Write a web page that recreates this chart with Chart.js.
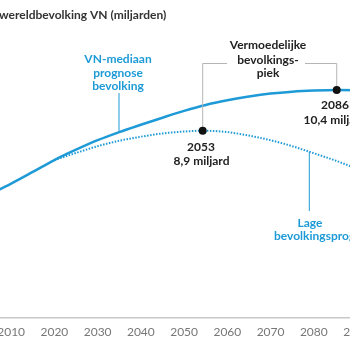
<!DOCTYPE html>
<html><head><meta charset="utf-8">
<script src="https://cdn.jsdelivr.net/npm/chart.js@4/dist/chart.umd.min.js"></script>
<style>
html,body{margin:0;padding:0;width:350px;height:350px;overflow:hidden;background:#fff;}
#wrap{position:absolute;left:-45px;top:0;width:428px;height:350px;}
</style></head>
<body>
<div id="wrap"><canvas id="c" width="428" height="350"></canvas></div>
<script>
// Data (years, population in billions)
const medianYears = [2000, 2005, 2010, 2015, 2020, 2025, 2030, 2035, 2040, 2045, 2050, 2055, 2060, 2065, 2070, 2075, 2080, 2085.3, 2090, 2095];
const medianValues = [6.15, 6.55, 6.95, 7.38, 7.82, 8.2, 8.55, 8.85, 9.12, 9.38, 9.63, 9.85, 10.02, 10.16, 10.27, 10.34, 10.38, 10.4, 10.39, 10.36];
const lowYears = [2020, 2025, 2030, 2035, 2040, 2045, 2050, 2054.3, 2060, 2065, 2070, 2075, 2080, 2085, 2090, 2095];
const lowValues = [7.82, 8.08, 8.33, 8.53, 8.68, 8.8, 8.87, 8.9, 8.85, 8.72, 8.55, 8.33, 8.07, 7.8, 7.5, 7.2];
const peakYears = [2054.3, 2085.3];
const peakValues = [8.9, 10.4];
const tickYears = [2000, 2010, 2020, 2030, 2040, 2050, 2060, 2070, 2080, 2090];

const BLUE = '#1e9ad6';
const FONT = 'Lato, "Noto Sans", sans-serif';

const pts = (xs, ys) => xs.map((x, i) => ({x: x, y: ys[i]}));

const annot = {
  id: 'annot',
  afterDatasetsDraw(chart) {
    const ctx = chart.ctx;
    const xs = chart.scales.x, ys = chart.scales.y;
    const OX = 45; // page-to-canvas offset
    const X = v => xs.getPixelForValue(v), Y = v => ys.getPixelForValue(v);
    ctx.save();
    // title
    ctx.fillStyle = '#333';
    ctx.font = 'bold 12px ' + FONT;
    ctx.textBaseline = 'middle';
    ctx.textAlign = 'left';
    ctx.fillText('wereldbevolking VN (miljarden)', OX - 1, 15);

    // bracket
    ctx.strokeStyle = '#b5b5b5';
    ctx.lineWidth = 1;
    const x1 = X(peakYears[0]), y1 = Y(peakValues[0]);
    const x2 = X(peakYears[1]), y2 = Y(peakValues[1]);
    ctx.beginPath();
    ctx.moveTo(x1, y1); ctx.lineTo(x1, 63.5); ctx.lineTo(OX + 227, 63.5);
    ctx.moveTo(OX + 305, 63.5); ctx.lineTo(x2, 63.5); ctx.lineTo(x2, y2);
    ctx.stroke();

    // blue leaders
    ctx.strokeStyle = BLUE;
    ctx.beginPath();
    ctx.moveTo(OX + 119, 93); ctx.lineTo(OX + 119, Y(8.87));
    ctx.moveTo(OX + 309.3, Y(8.12)); ctx.lineTo(OX + 309.3, 211);
    ctx.stroke();

    // dots
    ctx.fillStyle = '#111';
    [[x1, y1], [x2, y2]].forEach(p => { ctx.beginPath(); ctx.arc(p[0], p[1], 4, 0, Math.PI * 2); ctx.fill(); });

    // blue labels
    ctx.fillStyle = BLUE;
    ctx.font = 'bold 12px ' + FONT;
    ctx.textAlign = 'center';
    ctx.fillText('VN-mediaan', OX + 118, 59);
    ctx.fillText('prognose', OX + 118, 73);
    ctx.fillText('bevolking', OX + 118, 86);
    ctx.fillText('Lage', OX + 310, 223);
    ctx.textAlign = 'left';
    ctx.fillText('bevolkingsprognose', OX + 274, 236);

    // black labels
    ctx.fillStyle = '#222';
    ctx.textAlign = 'center';
    ctx.fillText('Vermoedelijke', OX + 268, 45);
    ctx.fillText('bevolkings-', OX + 268, 60);
    ctx.fillText('piek', OX + 268, 73);
    ctx.fillText('2053', OX + 201, 147);
    ctx.fillText('8,9 miljard', OX + 201.5, 161);
    ctx.fillText('2086', OX + 335, 105);
    ctx.fillText('10,4 miljard', OX + 335, 120);
    ctx.restore();
  }
};

new Chart(document.getElementById('c'), {
  type: 'line',
  data: {
    datasets: [
      {label: 'VN-mediaan', data: pts(medianYears, medianValues), borderColor: BLUE, borderWidth: 2.5,
       pointRadius: 0, cubicInterpolationMode: 'monotone', fill: false},
      {label: 'Laag', data: pts(lowYears, lowValues), borderColor: BLUE, borderWidth: 2, borderDash: [1.5, 1.5],
       pointRadius: 0, cubicInterpolationMode: 'monotone', fill: false}
    ]
  },
  options: {
    responsive: false,
    animation: false,
    layout: {padding: {top: 19.5, left: 0, right: 0, bottom: 0}},
    plugins: {legend: {display: false}, tooltip: {enabled: false}},
    scales: {
      x: {
        type: 'linear', min: 1998.1, max: 2096.0,
        grid: {display: false},
        border: {display: true, color: '#c8c8c8', width: 1.5},
        afterBuildTicks: s => { s.ticks = tickYears.map(v => ({value: v})); },
        afterFit: s => { s.height = 32.1; },
        ticks: {color: '#777', font: {family: FONT, size: 12}, padding: -1, maxRotation: 0, autoSkip: false,
                callback: v => String(v)}
      },
      y: {display: false, min: 2, max: 13}
    }
  },
  plugins: [annot]
});
</script>
</body></html>
